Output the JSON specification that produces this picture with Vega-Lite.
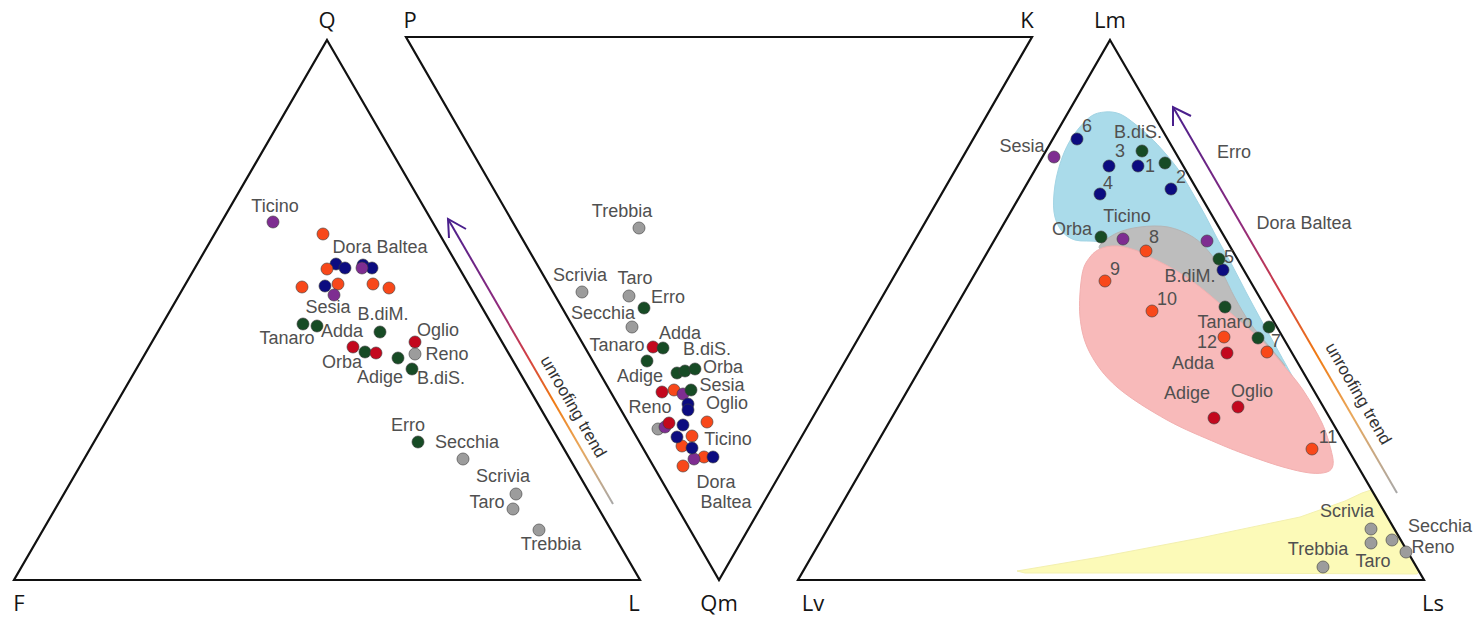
{
  "$schema": "https://vega.github.io/schema/vega-lite/v6.json",
  "width": 1479,
  "height": 617,
  "autosize": {"type": "fit", "contains": "padding"},
  "padding": 0,
  "background": "white",
  "config": {"view": {"stroke": null}},
  "datasets": {
    "triangles": [
      {"tri": "QFL", "ord": 1, "x": 327, "y": 40},
      {"tri": "QFL", "ord": 2, "x": 640, "y": 580},
      {"tri": "QFL", "ord": 3, "x": 14, "y": 580},
      {"tri": "PKQm", "ord": 1, "x": 406, "y": 37},
      {"tri": "PKQm", "ord": 2, "x": 1032, "y": 37},
      {"tri": "PKQm", "ord": 3, "x": 719, "y": 580},
      {"tri": "LmLvLs", "ord": 1, "x": 1110, "y": 40},
      {"tri": "LmLvLs", "ord": 2, "x": 1424, "y": 580},
      {"tri": "LmLvLs", "ord": 3, "x": 798, "y": 580}
    ],
    "fields": [
      {"f": "blue", "ord": 1, "x": 1073, "y": 136},
      {"f": "blue", "ord": 2, "x": 1090, "y": 117},
      {"f": "blue", "ord": 3, "x": 1105, "y": 112},
      {"f": "blue", "ord": 4, "x": 1120, "y": 114},
      {"f": "blue", "ord": 5, "x": 1135, "y": 124},
      {"f": "blue", "ord": 6, "x": 1150, "y": 137},
      {"f": "blue", "ord": 7, "x": 1165, "y": 153},
      {"f": "blue", "ord": 8, "x": 1180, "y": 172},
      {"f": "blue", "ord": 9, "x": 1192, "y": 192},
      {"f": "blue", "ord": 10, "x": 1205, "y": 215},
      {"f": "blue", "ord": 11, "x": 1218, "y": 240},
      {"f": "blue", "ord": 12, "x": 1232, "y": 265},
      {"f": "blue", "ord": 13, "x": 1246, "y": 292},
      {"f": "blue", "ord": 14, "x": 1260, "y": 318},
      {"f": "blue", "ord": 15, "x": 1275, "y": 345},
      {"f": "blue", "ord": 16, "x": 1290, "y": 372},
      {"f": "blue", "ord": 17, "x": 1305, "y": 398},
      {"f": "blue", "ord": 18, "x": 1313, "y": 408},
      {"f": "blue", "ord": 19, "x": 1306, "y": 406},
      {"f": "blue", "ord": 20, "x": 1292, "y": 395},
      {"f": "blue", "ord": 21, "x": 1270, "y": 372},
      {"f": "blue", "ord": 22, "x": 1245, "y": 348},
      {"f": "blue", "ord": 23, "x": 1220, "y": 320},
      {"f": "blue", "ord": 24, "x": 1195, "y": 295},
      {"f": "blue", "ord": 25, "x": 1165, "y": 272},
      {"f": "blue", "ord": 26, "x": 1130, "y": 252},
      {"f": "blue", "ord": 27, "x": 1100, "y": 242},
      {"f": "blue", "ord": 28, "x": 1075, "y": 240},
      {"f": "blue", "ord": 29, "x": 1061, "y": 230},
      {"f": "blue", "ord": 30, "x": 1054, "y": 212},
      {"f": "blue", "ord": 31, "x": 1055, "y": 185},
      {"f": "blue", "ord": 32, "x": 1062, "y": 158},
      {"f": "grey", "ord": 1, "x": 1100, "y": 245},
      {"f": "grey", "ord": 2, "x": 1117, "y": 233},
      {"f": "grey", "ord": 3, "x": 1140, "y": 227},
      {"f": "grey", "ord": 4, "x": 1168, "y": 227},
      {"f": "grey", "ord": 5, "x": 1193, "y": 237},
      {"f": "grey", "ord": 6, "x": 1210, "y": 253},
      {"f": "grey", "ord": 7, "x": 1222, "y": 272},
      {"f": "grey", "ord": 8, "x": 1235, "y": 298},
      {"f": "grey", "ord": 9, "x": 1250, "y": 323},
      {"f": "grey", "ord": 10, "x": 1268, "y": 345},
      {"f": "grey", "ord": 11, "x": 1285, "y": 366},
      {"f": "grey", "ord": 12, "x": 1268, "y": 352},
      {"f": "grey", "ord": 13, "x": 1245, "y": 333},
      {"f": "grey", "ord": 14, "x": 1220, "y": 308},
      {"f": "grey", "ord": 15, "x": 1195, "y": 285},
      {"f": "grey", "ord": 16, "x": 1160, "y": 264},
      {"f": "grey", "ord": 17, "x": 1125, "y": 253},
      {"f": "grey", "ord": 18, "x": 1104, "y": 251},
      {"f": "pink", "ord": 1, "x": 1082, "y": 275},
      {"f": "pink", "ord": 2, "x": 1090, "y": 257},
      {"f": "pink", "ord": 3, "x": 1102, "y": 248},
      {"f": "pink", "ord": 4, "x": 1118, "y": 246},
      {"f": "pink", "ord": 5, "x": 1135, "y": 250},
      {"f": "pink", "ord": 6, "x": 1150, "y": 257},
      {"f": "pink", "ord": 7, "x": 1175, "y": 270},
      {"f": "pink", "ord": 8, "x": 1200, "y": 287},
      {"f": "pink", "ord": 9, "x": 1227, "y": 310},
      {"f": "pink", "ord": 10, "x": 1250, "y": 330},
      {"f": "pink", "ord": 11, "x": 1267, "y": 346},
      {"f": "pink", "ord": 12, "x": 1284, "y": 366},
      {"f": "pink", "ord": 13, "x": 1303, "y": 390},
      {"f": "pink", "ord": 14, "x": 1322, "y": 423},
      {"f": "pink", "ord": 15, "x": 1331, "y": 450},
      {"f": "pink", "ord": 16, "x": 1333, "y": 465},
      {"f": "pink", "ord": 17, "x": 1327, "y": 472},
      {"f": "pink", "ord": 18, "x": 1310, "y": 473},
      {"f": "pink", "ord": 19, "x": 1283, "y": 467},
      {"f": "pink", "ord": 20, "x": 1250, "y": 456},
      {"f": "pink", "ord": 21, "x": 1217, "y": 443},
      {"f": "pink", "ord": 22, "x": 1167, "y": 420},
      {"f": "pink", "ord": 23, "x": 1117, "y": 387},
      {"f": "pink", "ord": 24, "x": 1090, "y": 353},
      {"f": "pink", "ord": 25, "x": 1080, "y": 317},
      {"f": "yellow", "ord": 1, "x": 1017, "y": 571},
      {"f": "yellow", "ord": 2, "x": 1100, "y": 557},
      {"f": "yellow", "ord": 3, "x": 1200, "y": 538},
      {"f": "yellow", "ord": 4, "x": 1300, "y": 517},
      {"f": "yellow", "ord": 5, "x": 1345, "y": 501},
      {"f": "yellow", "ord": 6, "x": 1362, "y": 493},
      {"f": "yellow", "ord": 7, "x": 1371, "y": 490},
      {"f": "yellow", "ord": 8, "x": 1375, "y": 494},
      {"f": "yellow", "ord": 9, "x": 1419, "y": 572},
      {"f": "yellow", "ord": 10, "x": 1417, "y": 574},
      {"f": "yellow", "ord": 11, "x": 1200, "y": 573},
      {"f": "yellow", "ord": 12, "x": 1025, "y": 573}
    ],
    "trend": [
      {"arrow": "a", "ord": 1, "x": 613, "y": 504},
      {"arrow": "a", "ord": 2, "x": 448, "y": 219},
      {"arrow": "b", "ord": 1, "x": 1397, "y": 493},
      {"arrow": "b", "ord": 2, "x": 1173, "y": 107}
    ],
    "heads": [
      {"arrow": "a", "ord": 1, "x": 449, "y": 238},
      {"arrow": "a", "ord": 2, "x": 448, "y": 219},
      {"arrow": "a", "ord": 3, "x": 466, "y": 229},
      {"arrow": "b", "ord": 1, "x": 1173, "y": 126},
      {"arrow": "b", "ord": 2, "x": 1173, "y": 107},
      {"arrow": "b", "ord": 3, "x": 1191, "y": 116}
    ],
    "samples": [
      {"x": 336, "y": 264, "s": "C"}, {"x": 345, "y": 268, "s": "C"}, {"x": 363, "y": 265, "s": "C"},
      {"x": 372, "y": 268, "s": "C"}, {"x": 325, "y": 286, "s": "C"},
      {"x": 323, "y": 234, "s": "B"}, {"x": 327, "y": 269, "s": "B"}, {"x": 302, "y": 287, "s": "B"},
      {"x": 338, "y": 284, "s": "B"}, {"x": 373, "y": 284, "s": "B"}, {"x": 389, "y": 288, "s": "B"},
      {"x": 273, "y": 222, "s": "A"}, {"x": 362, "y": 268, "s": "A"}, {"x": 334, "y": 295, "s": "A"},
      {"x": 353, "y": 347, "s": "E"},
      {"x": 303, "y": 324, "s": "D"}, {"x": 317, "y": 326, "s": "D"}, {"x": 380, "y": 332, "s": "D"},
      {"x": 365, "y": 352, "s": "D"}, {"x": 398, "y": 358, "s": "D"}, {"x": 412, "y": 369, "s": "D"},
      {"x": 418, "y": 442, "s": "D"},
      {"x": 415, "y": 342, "s": "E"}, {"x": 376, "y": 353, "s": "E"},
      {"x": 415, "y": 354, "s": "F"}, {"x": 463, "y": 459, "s": "F"}, {"x": 516, "y": 494, "s": "F"},
      {"x": 513, "y": 509, "s": "F"}, {"x": 539, "y": 530, "s": "F"},

      {"x": 639, "y": 228, "s": "F"}, {"x": 582, "y": 292, "s": "F"}, {"x": 629, "y": 296, "s": "F"},
      {"x": 632, "y": 327, "s": "F"}, {"x": 658, "y": 429, "s": "F"},
      {"x": 674, "y": 390, "s": "B"}, {"x": 707, "y": 422, "s": "B"}, {"x": 692, "y": 436, "s": "B"},
      {"x": 682, "y": 446, "s": "B"}, {"x": 704, "y": 457, "s": "B"}, {"x": 683, "y": 466, "s": "B"},
      {"x": 683, "y": 394, "s": "A"}, {"x": 665, "y": 427, "s": "A"}, {"x": 694, "y": 459, "s": "A"},
      {"x": 688, "y": 404, "s": "C"}, {"x": 688, "y": 410, "s": "C"}, {"x": 683, "y": 425, "s": "C"},
      {"x": 677, "y": 437, "s": "C"}, {"x": 692, "y": 448, "s": "C"}, {"x": 713, "y": 457, "s": "C"},
      {"x": 653, "y": 347, "s": "E"}, {"x": 662, "y": 392, "s": "E"}, {"x": 669, "y": 423, "s": "E"},
      {"x": 644, "y": 308, "s": "D"}, {"x": 663, "y": 348, "s": "D"}, {"x": 647, "y": 361, "s": "D"},
      {"x": 677, "y": 373, "s": "D"}, {"x": 685, "y": 371, "s": "D"}, {"x": 695, "y": 369, "s": "D"},
      {"x": 691, "y": 390, "s": "D"},

      {"x": 1054, "y": 157, "s": "A"}, {"x": 1123, "y": 239, "s": "A"}, {"x": 1207, "y": 241, "s": "A"},
      {"x": 1077, "y": 139, "s": "C"}, {"x": 1109, "y": 166, "s": "C"}, {"x": 1138, "y": 166, "s": "C"},
      {"x": 1100, "y": 194, "s": "C"}, {"x": 1171, "y": 189, "s": "C"}, {"x": 1223, "y": 270, "s": "C"},
      {"x": 1142, "y": 151, "s": "D"}, {"x": 1165, "y": 163, "s": "D"}, {"x": 1101, "y": 237, "s": "D"},
      {"x": 1219, "y": 259, "s": "D"}, {"x": 1225, "y": 307, "s": "D"}, {"x": 1269, "y": 327, "s": "D"},
      {"x": 1258, "y": 338, "s": "D"},
      {"x": 1146, "y": 251, "s": "B"}, {"x": 1105, "y": 281, "s": "B"}, {"x": 1152, "y": 311, "s": "B"},
      {"x": 1224, "y": 337, "s": "B"}, {"x": 1267, "y": 352, "s": "B"}, {"x": 1312, "y": 449, "s": "B"},
      {"x": 1227, "y": 353, "s": "E"}, {"x": 1238, "y": 407, "s": "E"}, {"x": 1214, "y": 418, "s": "E"},
      {"x": 1371, "y": 529, "s": "F"}, {"x": 1371, "y": 543, "s": "F"}, {"x": 1392, "y": 540, "s": "F"},
      {"x": 1406, "y": 552, "s": "F"}, {"x": 1323, "y": 567, "s": "F"}
    ],
    "names": [
      {"x": 275, "y": 207, "t": "Ticino"},
      {"x": 380, "y": 248, "t": "Dora Baltea"},
      {"x": 328, "y": 308, "t": "Sesia"},
      {"x": 383, "y": 315, "t": "B.diM."},
      {"x": 287, "y": 339, "t": "Tanaro"},
      {"x": 342, "y": 332, "t": "Adda"},
      {"x": 438, "y": 331, "t": "Oglio"},
      {"x": 447, "y": 355, "t": "Reno"},
      {"x": 342, "y": 363, "t": "Orba"},
      {"x": 380, "y": 378, "t": "Adige"},
      {"x": 441, "y": 379, "t": "B.diS."},
      {"x": 408, "y": 426, "t": "Erro"},
      {"x": 467, "y": 443, "t": "Secchia"},
      {"x": 503, "y": 477, "t": "Scrivia"},
      {"x": 487, "y": 503, "t": "Taro"},
      {"x": 551, "y": 545, "t": "Trebbia"},
      {"x": 622, "y": 212, "t": "Trebbia"},
      {"x": 580, "y": 276, "t": "Scrivia"},
      {"x": 635, "y": 279, "t": "Taro"},
      {"x": 668, "y": 298, "t": "Erro"},
      {"x": 603, "y": 314, "t": "Secchia"},
      {"x": 680, "y": 334, "t": "Adda"},
      {"x": 617, "y": 346, "t": "Tanaro"},
      {"x": 707, "y": 350, "t": "B.diS."},
      {"x": 723, "y": 368, "t": "Orba"},
      {"x": 640, "y": 377, "t": "Adige"},
      {"x": 722, "y": 386, "t": "Sesia"},
      {"x": 727, "y": 404, "t": "Oglio"},
      {"x": 650, "y": 408, "t": "Reno"},
      {"x": 728, "y": 440, "t": "Ticino"},
      {"x": 716, "y": 483, "t": "Dora"},
      {"x": 726, "y": 503, "t": "Baltea"},
      {"x": 1022, "y": 147, "t": "Sesia"},
      {"x": 1087, "y": 127, "t": "6"},
      {"x": 1138, "y": 133, "t": "B.diS."},
      {"x": 1120, "y": 152, "t": "3"},
      {"x": 1150, "y": 167, "t": "1"},
      {"x": 1108, "y": 184, "t": "4"},
      {"x": 1181, "y": 178, "t": "2"},
      {"x": 1234, "y": 153, "t": "Erro"},
      {"x": 1127, "y": 217, "t": "Ticino"},
      {"x": 1072, "y": 230, "t": "Orba"},
      {"x": 1154, "y": 238, "t": "8"},
      {"x": 1304, "y": 224, "t": "Dora Baltea"},
      {"x": 1229, "y": 258, "t": "5"},
      {"x": 1115, "y": 270, "t": "9"},
      {"x": 1190, "y": 277, "t": "B.diM."},
      {"x": 1167, "y": 300, "t": "10"},
      {"x": 1225, "y": 323, "t": "Tanaro"},
      {"x": 1276, "y": 342, "t": "7"},
      {"x": 1207, "y": 343, "t": "12"},
      {"x": 1193, "y": 364, "t": "Adda"},
      {"x": 1187, "y": 394, "t": "Adige"},
      {"x": 1252, "y": 392, "t": "Oglio"},
      {"x": 1328, "y": 438, "t": "11"},
      {"x": 1347, "y": 512, "t": "Scrivia"},
      {"x": 1440, "y": 527, "t": "Secchia"},
      {"x": 1433, "y": 548, "t": "Reno"},
      {"x": 1318, "y": 550, "t": "Trebbia"},
      {"x": 1373, "y": 562, "t": "Taro"}
    ],
    "apices": [
      {"x": 327, "y": 21, "t": "Q"},
      {"x": 410, "y": 21, "t": "P"},
      {"x": 1027, "y": 21, "t": "K"},
      {"x": 1110, "y": 21, "t": "Lm"},
      {"x": 19, "y": 604, "t": "F"},
      {"x": 634, "y": 604, "t": "L"},
      {"x": 719, "y": 604, "t": "Qm"},
      {"x": 813, "y": 604, "t": "Lv"},
      {"x": 1433, "y": 604, "t": "Ls"}
    ],
    "trendLabels": [
      {"x": 573, "y": 407, "t": "unroofing trend"},
      {"x": 1358, "y": 394, "t": "unroofing trend"}
    ]
  },
  "encoding": {
    "x": {"field": "x", "type": "quantitative", "axis": null, "scale": {"domain": [0, 1479], "nice": false, "zero": false}},
    "y": {"field": "y", "type": "quantitative", "axis": null, "scale": {"domain": [0, 617], "nice": false, "zero": false, "reverse": true}}
  },
  "layer": [
    {
      "data": {"name": "fields"},
      "transform": [{"filter": "datum.f === 'blue'"}],
      "mark": {"type": "line", "interpolate": "cardinal-closed", "fill": "#AADBEA", "stroke": "#A2D4E4", "strokeWidth": 1},
      "encoding": {"order": {"field": "ord"}}
    },
    {
      "data": {"name": "fields"},
      "transform": [{"filter": "datum.f === 'grey'"}],
      "mark": {"type": "line", "interpolate": "cardinal-closed", "fill": "#BDBDBD", "stroke": "#B5B5B5", "strokeWidth": 1},
      "encoding": {"order": {"field": "ord"}}
    },
    {
      "data": {"name": "fields"},
      "transform": [{"filter": "datum.f === 'pink'"}],
      "mark": {"type": "line", "interpolate": "cardinal-closed", "fill": "#F8BABA", "stroke": "#F2B0B0", "strokeWidth": 1},
      "encoding": {"order": {"field": "ord"}}
    },
    {
      "data": {"name": "fields"},
      "transform": [{"filter": "datum.f === 'yellow'"}],
      "mark": {"type": "line", "interpolate": "linear-closed", "fill": "#FCFAB8", "stroke": "#F3F0B0", "strokeWidth": 1},
      "encoding": {"order": {"field": "ord"}}
    },
    {
      "data": {"name": "triangles"},
      "mark": {"type": "line", "interpolate": "linear-closed", "stroke": "#111111", "strokeWidth": 2.2, "strokeJoin": "miter"},
      "encoding": {"detail": {"field": "tri"}, "order": {"field": "ord"}}
    },
    {
      "data": {"name": "trend"},
      "mark": {
        "type": "line",
        "strokeWidth": 2,
        "stroke": {
          "gradient": "linear",
          "x1": 0, "y1": 0, "x2": 1, "y2": 1,
          "stops": [
            {"offset": 0, "color": "#4A1F8C"},
            {"offset": 0.3, "color": "#8E2A7E"},
            {"offset": 0.48, "color": "#D23E45"},
            {"offset": 0.64, "color": "#F07A12"},
            {"offset": 0.8, "color": "#E9A85C"},
            {"offset": 1, "color": "#A8A8A8"}
          ]
        }
      },
      "encoding": {"detail": {"field": "arrow"}, "order": {"field": "ord"}}
    },
    {
      "data": {"name": "heads"},
      "mark": {"type": "line", "stroke": "#4A1F8C", "strokeWidth": 2, "strokeJoin": "miter"},
      "encoding": {"detail": {"field": "arrow"}, "order": {"field": "ord"}}
    },
    {
      "data": {"name": "samples"},
      "mark": {"type": "point", "filled": true, "size": 145, "opacity": 1, "stroke": "#3A3A3A", "strokeWidth": 0.6},
      "encoding": {
        "color": {
          "field": "s",
          "type": "nominal",
          "legend": null,
          "scale": {
            "domain": ["A", "B", "C", "D", "E", "F"],
            "range": ["#7E2D91", "#F8481A", "#0C0C80", "#174B25", "#C3081E", "#9C9C9C"]
          }
        }
      }
    },
    {
      "data": {"name": "names"},
      "mark": {"type": "text", "font": "Liberation Sans", "fontSize": 18, "fill": "#505050", "align": "center", "baseline": "middle"},
      "encoding": {"text": {"field": "t"}}
    },
    {
      "data": {"name": "apices"},
      "mark": {"type": "text", "font": "Open Sans", "fontSize": 22, "fill": "#151515", "align": "center", "baseline": "middle"},
      "encoding": {"text": {"field": "t"}}
    },
    {
      "data": {"name": "trendLabels"},
      "mark": {"type": "text", "font": "Liberation Sans", "fontSize": 17, "fill": "#333333", "align": "center", "baseline": "middle", "angle": 60},
      "encoding": {"text": {"field": "t"}}
    }
  ]
}
